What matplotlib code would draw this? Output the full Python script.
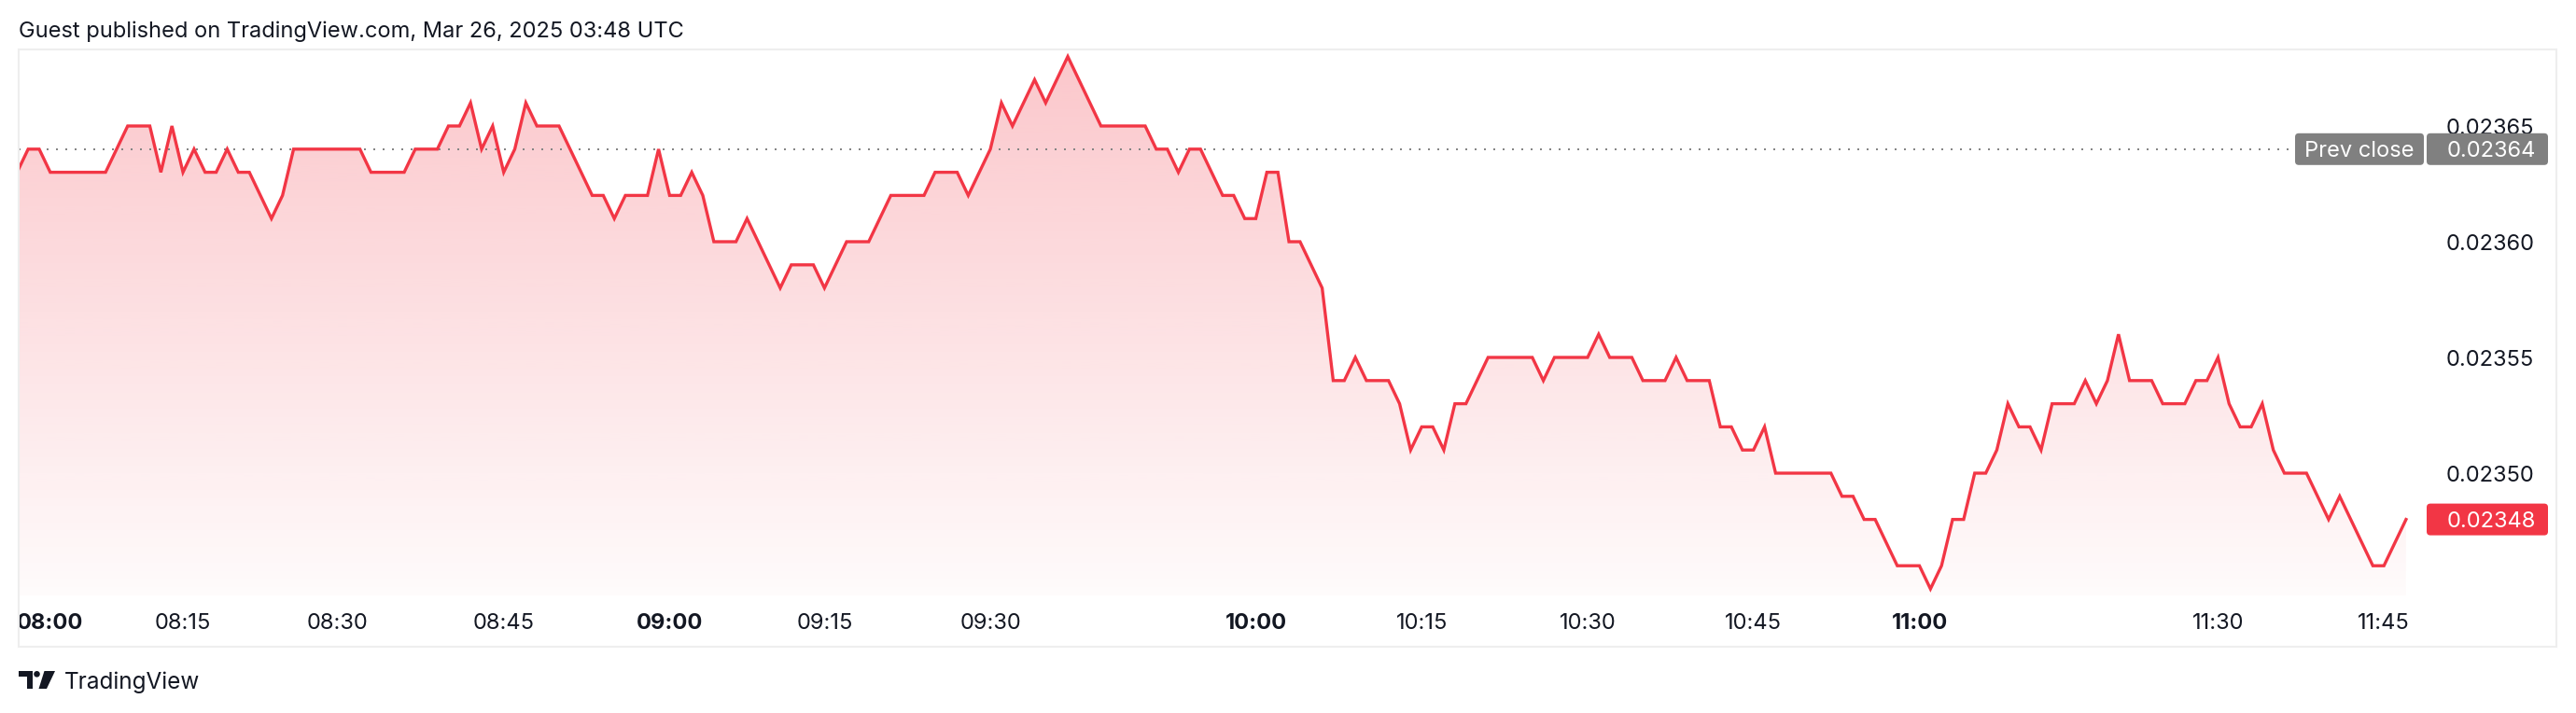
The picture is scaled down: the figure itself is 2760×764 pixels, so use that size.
import numpy as np
import matplotlib
matplotlib.use("Agg")
import matplotlib.pyplot as plt
from matplotlib.patches import Polygon, FancyBboxPatch, Rectangle, Circle
from matplotlib.transforms import IdentityTransform

plt.rcParams['font.family'] = ['Inter', 'DejaVu Sans']

# ---------------- data ----------------
price = [
    0.02363, 0.02364, 0.02364, 0.02363, 0.02363, 0.02363, 0.02363, 0.02363, 0.02363, 0.02364,
    0.02365, 0.02365, 0.02365, 0.02363, 0.02365, 0.02363, 0.02364, 0.02363, 0.02363, 0.02364,
    0.02363, 0.02363, 0.02362, 0.02361, 0.02362, 0.02364, 0.02364, 0.02364, 0.02364, 0.02364,
    0.02364, 0.02364, 0.02363, 0.02363, 0.02363, 0.02363, 0.02364, 0.02364, 0.02364, 0.02365,
    0.02365, 0.02366, 0.02364, 0.02365, 0.02363, 0.02364, 0.02366, 0.02365, 0.02365, 0.02365,
    0.02364, 0.02363, 0.02362, 0.02362, 0.02361, 0.02362, 0.02362, 0.02362, 0.02364, 0.02362,
    0.02362, 0.02363, 0.02362, 0.02360, 0.02360, 0.02360, 0.02361, 0.02360, 0.02359, 0.02358,
    0.02359, 0.02359, 0.02359, 0.02358, 0.02359, 0.02360, 0.02360, 0.02360, 0.02361, 0.02362,
    0.02362, 0.02362, 0.02362, 0.02363, 0.02363, 0.02363, 0.02362, 0.02363, 0.02364, 0.02366,
    0.02365, 0.02366, 0.02367, 0.02366, 0.02367, 0.02368, 0.02367, 0.02366, 0.02365, 0.02365,
    0.02365, 0.02365, 0.02365, 0.02364, 0.02364, 0.02363, 0.02364, 0.02364, 0.02363, 0.02362,
    0.02362, 0.02361, 0.02361, 0.02363, 0.02363, 0.02360, 0.02360, 0.02359, 0.02358, 0.02354,
    0.02354, 0.02355, 0.02354, 0.02354, 0.02354, 0.02353, 0.02351, 0.02352, 0.02352, 0.02351,
    0.02353, 0.02353, 0.02354, 0.02355, 0.02355, 0.02355, 0.02355, 0.02355, 0.02354, 0.02355,
    0.02355, 0.02355, 0.02355, 0.02356, 0.02355, 0.02355, 0.02355, 0.02354, 0.02354, 0.02354,
    0.02355, 0.02354, 0.02354, 0.02354, 0.02352, 0.02352, 0.02351, 0.02351, 0.02352, 0.02350,
    0.02350, 0.02350, 0.02350, 0.02350, 0.02350, 0.02349, 0.02349, 0.02348, 0.02348, 0.02347,
    0.02346, 0.02346, 0.02346, 0.02345, 0.02346, 0.02348, 0.02348, 0.02350, 0.02350, 0.02351,
    0.02353, 0.02352, 0.02352, 0.02351, 0.02353, 0.02353, 0.02353, 0.02354, 0.02353, 0.02354,
    0.02356, 0.02354, 0.02354, 0.02354, 0.02353, 0.02353, 0.02353, 0.02354, 0.02354, 0.02355,
    0.02353, 0.02352, 0.02352, 0.02353, 0.02351, 0.02350, 0.02350, 0.02350, 0.02349, 0.02348,
    0.02349, 0.02348, 0.02347, 0.02346, 0.02346, 0.02347, 0.02348,
]
time_ticks = [3, 15, 29, 44, 59, 73, 88, 112, 127, 142, 157, 172, 199, 214]
time_labels = ["08:00", "08:15", "08:30", "08:45", "09:00", "09:15", "09:30",
               "10:00", "10:15", "10:30", "10:45", "11:00", "11:30", "11:45"]
major_labels = ["08:00", "09:00", "10:00", "11:00"]
price_ticks = [0.02350, 0.02355, 0.02360, 0.02365]
prev_close = 0.02364
title = "Guest published on TradingView.com, Mar 26, 2025 03:48 UTC"
brand = "TradingView"

# ---------------- style / layout ----------------
W, H, DPI = 2760, 764, 100
RED = "#F23645"
TEXT = "#131722"
GREY_BOX = "#808080"
FS = 17

fig = plt.figure(figsize=(W / DPI, H / DPI), dpi=DPI)
fig.patch.set_facecolor("white")

PANE_L, PANE_T, PANE_R, PANE_B = 20, 53, 2600, 638
FRAME_R, FRAME_B = 2739, 693
X0_PX, BAR_PX = 18.3, 11.85
Y_REF_PX, Y_REF_VAL, PX_PER_UNIT = 135.0, 0.02365, 24.8 / 1e-5

ax = fig.add_axes([PANE_L / W, 1 - PANE_B / H, (PANE_R - PANE_L) / W, (PANE_B - PANE_T) / H])
xlim = ((PANE_L - X0_PX) / BAR_PX, (PANE_R - X0_PX) / BAR_PX)
ylim = (Y_REF_VAL - (PANE_B - Y_REF_PX) / PX_PER_UNIT,
        Y_REF_VAL + (Y_REF_PX - PANE_T) / PX_PER_UNIT)

x = np.arange(len(price))
y = np.array(price)

# gradient area fill
n = 256
rgba = np.zeros((n, 1, 4))
rgba[..., :3] = matplotlib.colors.to_rgb(RED)
rgba[:, 0, 3] = np.linspace(0.02, 0.28, n)
im = ax.imshow(rgba, extent=[xlim[0], xlim[1], ylim[0], y.max()], origin="lower",
               aspect="auto", interpolation="bilinear", zorder=1)
verts = [(x[0], ylim[0])] + list(zip(x, y)) + [(x[-1], ylim[0])]
poly = Polygon(verts, closed=True, facecolor="none", edgecolor="none", transform=ax.transData)
ax.add_patch(poly)
im.set_clip_path(poly)

ax.plot(x, y, color=RED, lw=2.4, zorder=3, solid_joinstyle="miter")

# prev close dotted line
x_dot_end = (2458 - X0_PX) / BAR_PX
ax.plot([xlim[0], x_dot_end], [prev_close, prev_close], ls=(0, (1, 4)), lw=1.44,
        color="#858585", zorder=2, clip_on=False)

ax.set_xlim(*xlim)
ax.set_ylim(*ylim)
for s in ax.spines.values():
    s.set_visible(False)
ax.set_xticks(time_ticks, time_labels)
ax.tick_params(axis="x", length=0, pad=14, labelsize=FS, labelcolor=TEXT)
for lbl in ax.get_xticklabels():
    if lbl.get_text() in major_labels:
        lbl.set_fontweight("bold")
ax.yaxis.tick_right()
ax.set_yticks(price_ticks, [f"{v:.5f}" for v in price_ticks])
ax.tick_params(axis="y", length=0, pad=15, labelsize=FS, labelcolor=TEXT)

# frame
IT = IdentityTransform()
fig.add_artist(Rectangle((PANE_L, H - FRAME_B), FRAME_R - PANE_L, FRAME_B - PANE_T,
                         transform=IT, fill=False, ec="#EEEEEE", lw=1.5))

def ypx(v):
    return ax.transData.transform((0, v))[1]

BOX_H = 34
yc = ypx(prev_close)
fig.add_artist(FancyBboxPatch((2459, yc - BOX_H / 2), 138, BOX_H,
                              boxstyle="round,pad=0,rounding_size=4", transform=IT,
                              fc=GREY_BOX, ec="none"))
fig.add_artist(FancyBboxPatch((2600, yc - BOX_H / 2), 130, BOX_H,
                              boxstyle="round,pad=0,rounding_size=4", transform=IT,
                              fc=GREY_BOX, ec="none"))
fig.text(2528, yc, "Prev close", transform=IT, ha="center", va="center_baseline",
         color="white", fontsize=FS)
fig.text(2717, yc, f"{prev_close:.5f}", transform=IT, ha="right", va="center_baseline",
         color="white", fontsize=FS)

yl = ypx(price[-1])
fig.add_artist(FancyBboxPatch((2600, yl - BOX_H / 2), 130, BOX_H,
                              boxstyle="round,pad=0,rounding_size=4", transform=IT,
                              fc=RED, ec="none"))
fig.text(2717, yl, f"{price[-1]:.5f}", transform=IT, ha="right", va="center_baseline",
         color="white", fontsize=FS)

# title
fig.text(20, H - 31, title, transform=IT, ha="left", va="center_baseline",
         color=TEXT, fontsize=FS)

# footer logo + brand
def P(pts):
    return [(px, H - py) for px, py in pts]
fig.add_artist(Polygon(P([(20, 719), (35, 719), (35, 738), (28.5, 738), (28.5, 725), (20, 725)]),
                       closed=True, transform=IT, fc=TEXT, ec="none"))
fig.add_artist(Circle((39.5, H - 722.3), 3.3, transform=IT, fc=TEXT, ec="none"))
fig.add_artist(Polygon(P([(47.5, 719), (59, 719), (50, 738), (41.5, 738)]),
                       closed=True, transform=IT, fc=TEXT, ec="none"))
fig.text(69, H - 738, brand, transform=IT, ha="left", va="baseline",
         color=TEXT, fontsize=17.5)

fig.savefig("out.png", dpi=DPI)
